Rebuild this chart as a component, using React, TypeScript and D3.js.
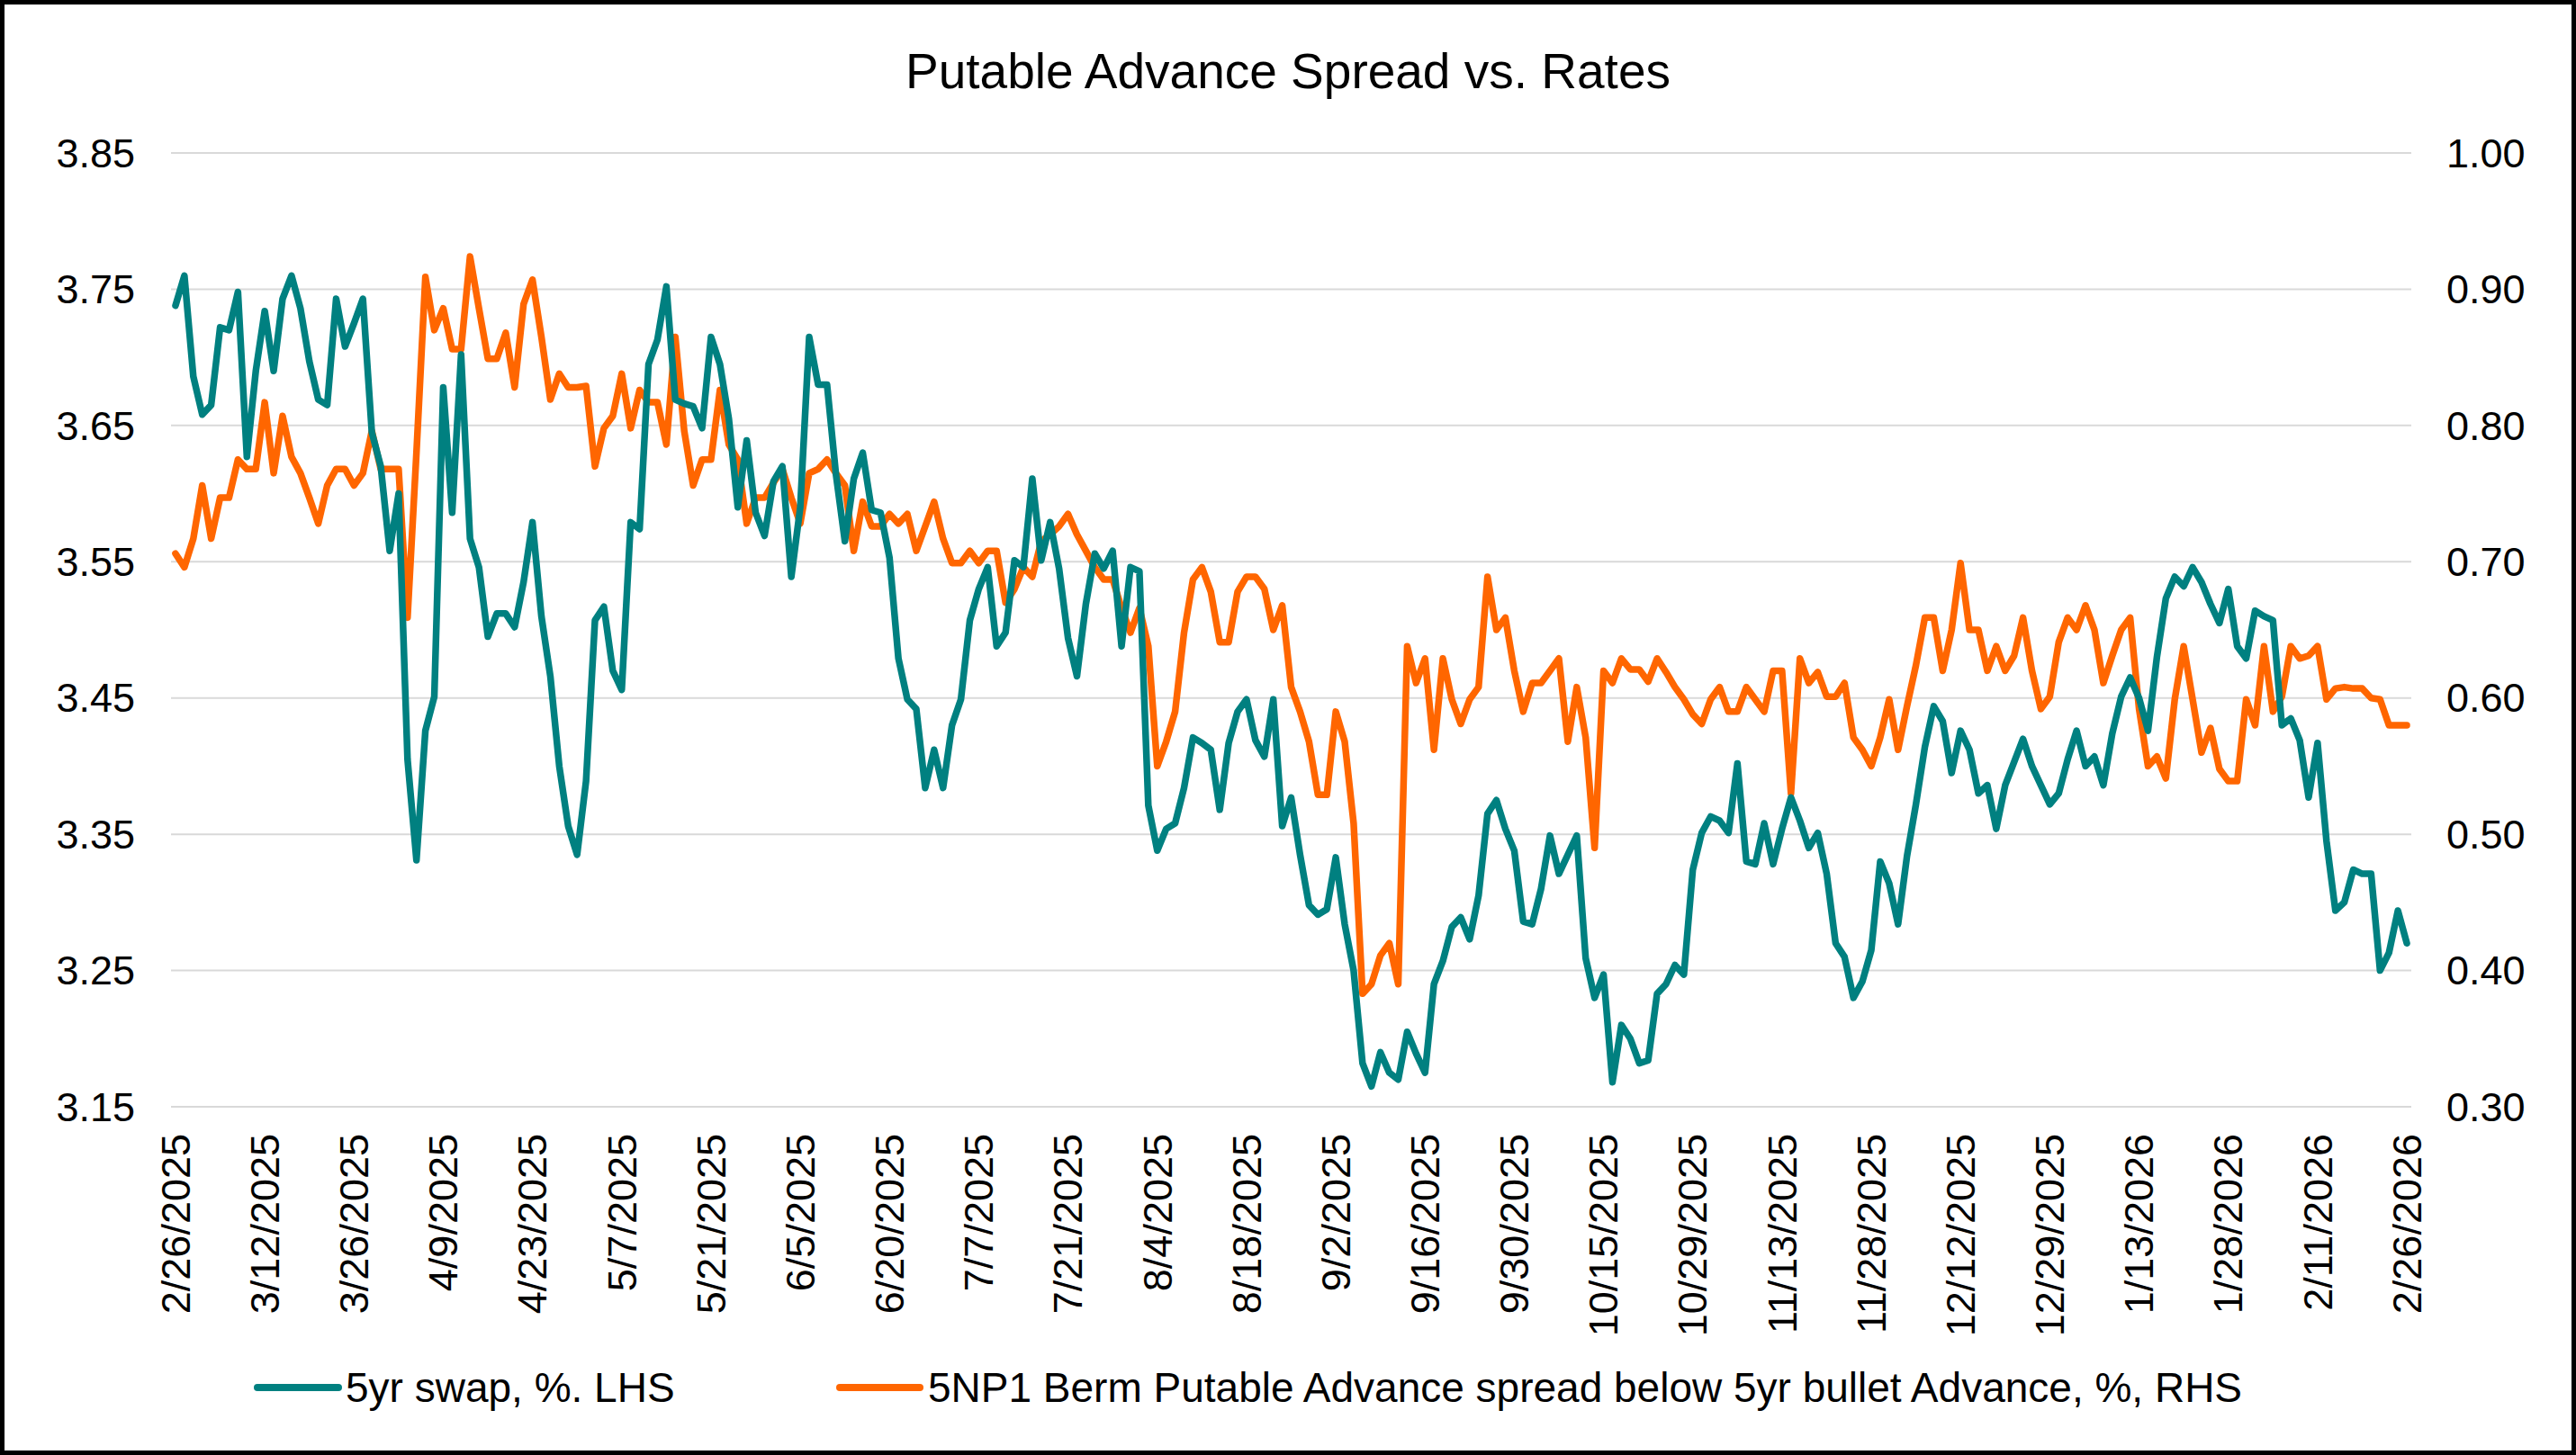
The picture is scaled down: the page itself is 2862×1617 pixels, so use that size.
import React from 'react';
import * as d3 from 'd3';

// 5yr swap, % (LHS)
const swap5y = [
	3.738, 3.76, 3.686, 3.658, 3.665, 3.722, 3.72, 3.748, 3.627, 3.69,
	3.734, 3.69, 3.743, 3.76, 3.736, 3.697, 3.669, 3.665, 3.743, 3.708,
	3.725, 3.743, 3.645, 3.62, 3.558, 3.60, 3.405, 3.331, 3.426, 3.451,
	3.678, 3.586, 3.702, 3.567, 3.546, 3.495, 3.512, 3.512, 3.502, 3.535,
	3.579, 3.51, 3.466, 3.40, 3.356, 3.335, 3.389, 3.507, 3.517, 3.47,
	3.456, 3.579, 3.574, 3.695, 3.713, 3.752, 3.669, 3.666, 3.664, 3.648,
	3.715, 3.695, 3.655, 3.59, 3.639, 3.586, 3.569, 3.609, 3.62, 3.539,
	3.59, 3.715, 3.68, 3.68, 3.614, 3.565, 3.611, 3.63, 3.588, 3.586,
	3.553, 3.479, 3.449, 3.442, 3.384, 3.412, 3.384, 3.43, 3.449, 3.507,
	3.53, 3.546, 3.488, 3.498, 3.551, 3.546, 3.611, 3.551, 3.579, 3.545,
	3.494, 3.466, 3.519, 3.556, 3.545, 3.558, 3.488, 3.546, 3.543, 3.371,
	3.338, 3.354, 3.358, 3.384, 3.421, 3.417, 3.412, 3.368, 3.417, 3.44,
	3.449, 3.419, 3.407, 3.449, 3.356, 3.377, 3.335, 3.298, 3.291, 3.295,
	3.333, 3.284, 3.25, 3.182, 3.165, 3.19, 3.175, 3.17, 3.205, 3.189,
	3.175, 3.24, 3.257, 3.282, 3.289, 3.273, 3.305, 3.365, 3.375, 3.354,
	3.338, 3.286, 3.284, 3.31, 3.349, 3.321, 3.335, 3.349, 3.259, 3.23,
	3.247, 3.168, 3.21, 3.20, 3.182, 3.184, 3.233, 3.24, 3.254, 3.247,
	3.324, 3.351, 3.363, 3.36, 3.351, 3.402, 3.33, 3.328, 3.358, 3.328,
	3.354, 3.377, 3.36, 3.34, 3.351, 3.321, 3.27, 3.26, 3.23, 3.242,
	3.265, 3.33, 3.314, 3.284, 3.334, 3.372, 3.414, 3.444, 3.433, 3.395,
	3.426, 3.412, 3.38, 3.386, 3.354, 3.386, 3.403, 3.42, 3.40, 3.386,
	3.372, 3.38, 3.405, 3.426, 3.40, 3.407, 3.386, 3.424, 3.451, 3.465,
	3.45, 3.426, 3.48, 3.523, 3.539, 3.532, 3.546, 3.535, 3.519, 3.505,
	3.53, 3.488, 3.479, 3.514, 3.51, 3.507, 3.43, 3.435, 3.419, 3.377,
	3.417, 3.345, 3.294, 3.30, 3.324, 3.321, 3.321, 3.25, 3.263, 3.294,
	3.27,
];

// 5NP1 Berm putable spread below 5yr bullet, % (RHS)
const putableSpread = [
	0.706, 0.696, 0.717, 0.756, 0.717, 0.747, 0.747, 0.775, 0.768, 0.768,
	0.817, 0.765, 0.807, 0.777, 0.765, 0.747, 0.728, 0.756, 0.768, 0.768,
	0.756, 0.765, 0.796, 0.768, 0.768, 0.768, 0.659, 0.78, 0.909, 0.87,
	0.886, 0.856, 0.856, 0.924, 0.886, 0.849, 0.849, 0.868, 0.828, 0.889,
	0.907, 0.865, 0.819, 0.838, 0.828, 0.828, 0.829, 0.77, 0.798, 0.807,
	0.838, 0.798, 0.826, 0.817, 0.817, 0.786, 0.865, 0.796, 0.756, 0.775,
	0.775, 0.826, 0.786, 0.775, 0.728, 0.747, 0.747, 0.758, 0.768, 0.747,
	0.728, 0.765, 0.768, 0.775, 0.765, 0.756, 0.708, 0.744, 0.726, 0.726,
	0.735, 0.728, 0.735, 0.708, 0.726, 0.744, 0.717, 0.699, 0.699, 0.708,
	0.699, 0.708, 0.708, 0.67, 0.68, 0.696, 0.689, 0.715, 0.72, 0.726,
	0.735, 0.72, 0.708, 0.696, 0.687, 0.687, 0.666, 0.648, 0.666, 0.638,
	0.55, 0.568, 0.59, 0.648, 0.687, 0.696, 0.678, 0.641, 0.641, 0.678,
	0.689, 0.689, 0.68, 0.65, 0.668, 0.608, 0.59, 0.568, 0.529, 0.529,
	0.59, 0.568, 0.508, 0.383, 0.39, 0.411, 0.42, 0.39, 0.638, 0.611,
	0.629, 0.562, 0.629, 0.599, 0.581, 0.599, 0.608, 0.689, 0.65, 0.659,
	0.62, 0.59, 0.611, 0.611, 0.62, 0.629, 0.568, 0.608, 0.571, 0.49,
	0.62, 0.611, 0.629, 0.621, 0.621, 0.612, 0.629, 0.619, 0.608, 0.599,
	0.588, 0.581, 0.599, 0.608, 0.59, 0.59, 0.608, 0.599, 0.59, 0.62,
	0.62, 0.53, 0.629, 0.611, 0.619, 0.601, 0.601, 0.611, 0.571, 0.562,
	0.55, 0.571, 0.599, 0.562, 0.594, 0.624, 0.659, 0.659, 0.62, 0.65,
	0.699, 0.65, 0.65, 0.62, 0.638, 0.62, 0.631, 0.659, 0.62, 0.592,
	0.601, 0.641, 0.659, 0.65, 0.668, 0.65, 0.611, 0.631, 0.65, 0.659,
	0.592, 0.55, 0.557, 0.541, 0.599, 0.638, 0.599, 0.56, 0.578, 0.548,
	0.539, 0.539, 0.599, 0.58, 0.638, 0.59, 0.601, 0.638, 0.629, 0.631,
	0.638, 0.599, 0.607, 0.608, 0.607, 0.607, 0.600, 0.599, 0.58, 0.58,
	0.58,
];

// market holidays skipped by the category axis
const holidays = [
	'2025-05-26', '2025-06-19', '2025-07-04', '2025-09-01', '2025-10-13',
	'2025-11-11', '2025-11-27', '2025-12-25', '2026-01-01', '2026-01-19',
	'2026-02-16',
];

const leftTicks = [3.15, 3.25, 3.35, 3.45, 3.55, 3.65, 3.75, 3.85];
const rightTicks = [0.3, 0.4, 0.5, 0.6, 0.7, 0.8, 0.9, 1.0];

const W = 2862;
const H = 1617;
const plot = { left: 190, right: 2679, top: 170, bottom: 1230 };
const FONT = 'Liberation Sans, Arial, sans-serif';
const TEAL = '#008080';
const ORANGE = '#FF6600';

const iso = d3.utcFormat('%Y-%m-%d');
const fmt = d3.utcFormat('%-m/%-d/%Y');
const dates = d3.utcDay
	.range(new Date(Date.UTC(2025, 1, 26)), new Date(Date.UTC(2026, 1, 27)))
	.filter(d => d.getUTCDay() !== 0 && d.getUTCDay() !== 6 && !holidays.includes(iso(d)));

function App() {
	const x = d3.scalePoint<number>()
		.domain(d3.range(dates.length))
		.range([plot.left, plot.right])
		.padding(0.5);
	const yL = d3.scaleLinear().domain([3.15, 3.85]).range([plot.bottom, plot.top]);
	const yR = d3.scaleLinear().domain([0.3, 1.0]).range([plot.bottom, plot.top]);

	const lineL = d3.line<number>().x((_, i) => x(i)!).y(d => yL(d));
	const lineR = d3.line<number>().x((_, i) => x(i)!).y(d => yR(d));

	const tickIdx = d3.range(0, dates.length, 10);

	return (
		<div>
			<style>{'body{margin:0}'}</style>
			<svg width={W} height={H} style={{ display: 'block', fontFamily: FONT }}>
				<rect x={0} y={0} width={W} height={H} fill="#fff" />
				<rect x={2.5} y={2.5} width={W - 5} height={H - 5} fill="none" stroke="#000" strokeWidth={5} />

				<text x={W / 2} y={98} textAnchor="middle" fontSize={55} fill="#000">
					Putable Advance Spread vs. Rates
				</text>

				{leftTicks.map(t => (
					<line key={'g' + t} x1={plot.left} x2={plot.right} y1={yL(t)} y2={yL(t)} stroke="#D9D9D9" strokeWidth={2} />
				))}
				{leftTicks.map(t => (
					<text key={'l' + t} x={150} y={yL(t)} dy="0.35em" textAnchor="end" fontSize={45} fill="#000">
						{t.toFixed(2)}
					</text>
				))}
				{rightTicks.map(t => (
					<text key={'r' + t} x={2718} y={yR(t)} dy="0.35em" textAnchor="start" fontSize={45} fill="#000">
						{t.toFixed(2)}
					</text>
				))}

				{tickIdx.map(i => (
					<text
						key={'x' + i}
						transform={`translate(${x(i)},1260) rotate(-90)`}
						textAnchor="end"
						dy="0.35em"
						fontSize={45}
						fill="#000"
					>
						{fmt(dates[i])}
					</text>
				))}

				<path d={lineR(putableSpread)!} fill="none" stroke={ORANGE} strokeWidth={7.5} strokeLinejoin="round" strokeLinecap="round" />
				<path d={lineL(swap5y)!} fill="none" stroke={TEAL} strokeWidth={7.5} strokeLinejoin="round" strokeLinecap="round" />

				<line x1={286} x2={376} y1={1542} y2={1542} stroke={TEAL} strokeWidth={8} strokeLinecap="round" />
				<text x={384} y={1542} dy="0.35em" fontSize={46} fill="#000">5yr swap, %. LHS</text>
				<line x1={933} x2={1022} y1={1542} y2={1542} stroke={ORANGE} strokeWidth={8} strokeLinecap="round" />
				<text x={1031} y={1542} dy="0.35em" fontSize={46} fill="#000">
					5NP1 Berm Putable Advance spread below 5yr bullet Advance, %, RHS
				</text>
			</svg>
		</div>
	);
}

export default App;
